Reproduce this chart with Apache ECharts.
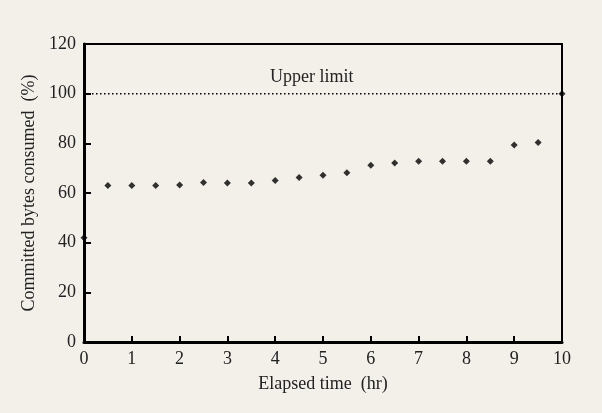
<!DOCTYPE html>
<html>
<head>
<meta charset="utf-8">
<script src="https://cdn.jsdelivr.net/npm/echarts@6/dist/echarts.min.js"></script>
<style>
  html, body { margin: 0; padding: 0; background: #f3f0ea; }
  #main { width: 602px; height: 413px; }
</style>
</head>
<body>
<div id="main"></div>
<script>
// elapsed time (hr) and committed bytes (%)
var hours = [0, 0.5, 1, 1.5, 2, 2.5, 3, 3.5, 4, 4.5, 5, 5.5, 6, 6.5, 7, 7.5, 8, 8.5, 9, 9.5, 10];
var consumed = [42, 63, 63, 63, 63.2, 64.2, 64, 64, 65, 66.2, 67.1, 68.2, 71.2, 72.1, 72.8, 72.8, 72.8, 72.8, 79.3, 80.3, 100];
// upper limit line, runs a little past the frame
var limitX = [0, 10.17];
var limitY = [100, 100];

var font = '"Liberation Serif", "DejaVu Serif", serif';

var points = [];
for (var i = 0; i < hours.length; i++) {
    points.push([hours[i], consumed[i]]);
}
var limitLine = [];
for (var j = 0; j < limitX.length; j++) {
    limitLine.push([limitX[j], limitY[j]]);
}

var myChart = echarts.init(document.getElementById('main'));

var option = {
    backgroundColor: '#f3f0ea',
    animation: false,
    title: {
        text: 'Upper limit',
        left: 265,
        top: 63,
        textStyle: { fontFamily: font, fontSize: 18, fontWeight: 'normal', color: '#222' }
    },
    grid: {
        left: 84, right: 40, top: 44, bottom: 71,
        show: true, borderColor: '#000', borderWidth: 2, backgroundColor: 'transparent'
    },
    xAxis: {
        type: 'value',
        min: 0, max: 10, interval: 1,
        name: 'Elapsed time  (hr)',
        nameLocation: 'middle',
        nameGap: 33,
        nameTextStyle: { fontFamily: font, fontSize: 18, color: '#222' },
        axisLine: { lineStyle: { color: '#000', width: 3 } },
        axisTick: { inside: true, length: 6, lineStyle: { color: '#000', width: 2 } },
        axisLabel: { fontFamily: font, fontSize: 18, color: '#222', margin: 8 },
        splitLine: { show: false }
    },
    yAxis: {
        type: 'value',
        min: 0, max: 120, interval: 20,
        name: 'Committed bytes consumed  (%)',
        nameLocation: 'middle',
        nameGap: 46,
        nameTextStyle: { fontFamily: font, fontSize: 18, color: '#222' },
        axisLine: { lineStyle: { color: '#000', width: 3 } },
        axisTick: { inside: true, length: 7, lineStyle: { color: '#000', width: 2 } },
        axisLabel: { fontFamily: font, fontSize: 18, color: '#222', margin: 8 },
        splitLine: { show: false }
    },
    series: [
        {
            type: 'line',
            data: limitLine,
            showSymbol: false,
            clip: false,
            lineStyle: { color: '#000', width: 1.5, type: [1.5, 2.5] },
            z: 1
        },
        {
            type: 'scatter',
            data: points,
            symbol: 'diamond',
            symbolSize: 7,
            clip: false,
            itemStyle: { color: '#000' },
            z: 3
        }
    ]
};

myChart.setOption(option);
</script>
</body>
</html>
